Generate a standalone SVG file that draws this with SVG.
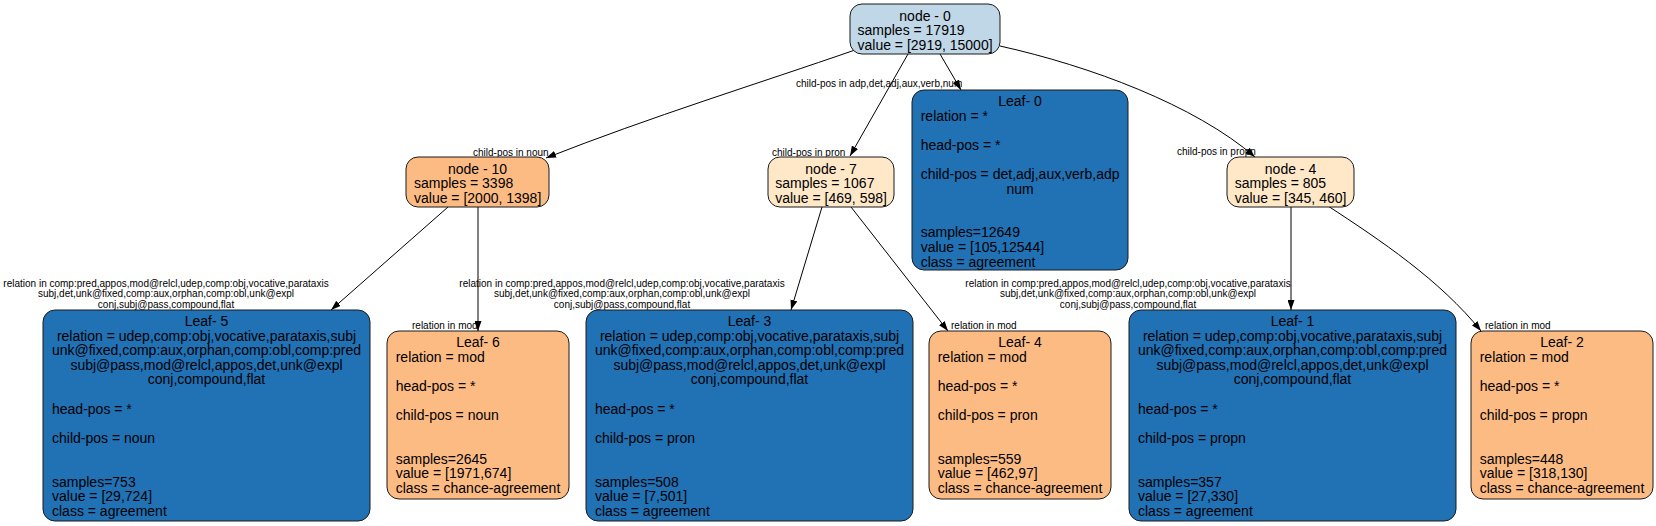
<svg xmlns="http://www.w3.org/2000/svg" width="1656" height="526" viewBox="0 0 1656 526">
<style>
.box{stroke:#1a1a1a;stroke-width:1}
.lb{fill:#bfd7e7}.db{fill:#2171b5}.or{fill:#fdbb84}.cr{fill:#fee8c8}
text{font-family:"Liberation Sans",Arial,Helvetica,sans-serif;fill:#000}
.t{font-size:14px}
.c{text-anchor:middle}
.el{font-size:10px}
.edge{fill:none;stroke:#000;stroke-width:1}
</style>
<defs>
<marker id="ah" viewBox="0 0 10 7" refX="10" refY="3.5" markerWidth="10" markerHeight="7" orient="auto" markerUnits="userSpaceOnUse">
<path d="M0,0 L10,3.5 L0,7 z" fill="#000"/>
</marker>
</defs>

<g id="connectors">
<path class="edge" marker-end="url(#ah)" d="M855,50 C760,83 650,117 546,158"/>
<path class="edge" marker-end="url(#ah)" d="M908,54 L850,156"/>
<path class="edge" marker-end="url(#ah)" d="M940,54 L961,90"/>
<path class="edge" marker-end="url(#ah)" d="M1000,46 C1090,66 1195,105 1255,157"/>
<path class="edge" marker-end="url(#ah)" d="M448,207 L331,310"/>
<path class="edge" marker-end="url(#ah)" d="M478,207 L478,331"/>
<path class="edge" marker-end="url(#ah)" d="M822,207 L791,310"/>
<path class="edge" marker-end="url(#ah)" d="M851,207 L948,331"/>
<path class="edge" marker-end="url(#ah)" d="M1291,206 L1291,310"/>
<path class="edge" marker-end="url(#ah)" d="M1328,206 C1380,240 1440,280 1481,331"/>
<text class="el" x="473" y="155.5">child-pos in noun</text>
<text class="el" x="796" y="87">child-pos in adp,det,adj,aux,verb,num</text>
<text class="el" x="772" y="155.5">child-pos in pron</text>
<text class="el" x="1177" y="155">child-pos in propn</text>
<text class="el c" x="166" y="286.5">relation in comp:pred,appos,mod@relcl,udep,comp:obj,vocative,parataxis</text>
<text class="el c" x="166" y="297.2">subj,det,unk@fixed,comp:aux,orphan,comp:obl,unk@expl</text>
<text class="el c" x="166" y="307.9">conj,subj@pass,compound,flat</text>
<text class="el c" x="622" y="286.5">relation in comp:pred,appos,mod@relcl,udep,comp:obj,vocative,parataxis</text>
<text class="el c" x="622" y="297.2">subj,det,unk@fixed,comp:aux,orphan,comp:obl,unk@expl</text>
<text class="el c" x="622" y="307.9">conj,subj@pass,compound,flat</text>
<text class="el c" x="1128" y="286.5">relation in comp:pred,appos,mod@relcl,udep,comp:obj,vocative,parataxis</text>
<text class="el c" x="1128" y="297.2">subj,det,unk@fixed,comp:aux,orphan,comp:obl,unk@expl</text>
<text class="el c" x="1128" y="307.9">conj,subj@pass,compound,flat</text>
<text class="el" x="412" y="328.5">relation in mod</text>
<text class="el" x="951" y="328.5">relation in mod</text>
<text class="el" x="1485" y="328.5">relation in mod</text>
</g>

<g id="node-0" transform="translate(850,4)">
<rect class="box lb" x="0" y="0" width="150" height="50" rx="12"/>
<text class="t c" x="75" y="16.8">node - 0</text>
<text class="t" x="7.5" y="31.4">samples = 17919</text>
<text class="t" x="7.5" y="46">value = [2919, 15000]</text>
</g>

<g id="node-10" transform="translate(406,157)">
<rect class="box or" x="0" y="0" width="143" height="50" rx="12"/>
<text class="t c" x="71.5" y="16.8">node - 10</text>
<text class="t" x="8" y="31.4">samples = 3398</text>
<text class="t" x="8" y="46">value = [2000, 1398]</text>
</g>

<g id="node-7" transform="translate(768,157)">
<rect class="box cr" x="0" y="0" width="126" height="50" rx="12"/>
<text class="t c" x="63" y="16.8">node - 7</text>
<text class="t" x="7.2" y="31.4">samples = 1067</text>
<text class="t" x="7.2" y="46">value = [469, 598]</text>
</g>

<g id="node-4" transform="translate(1227,157)">
<rect class="box cr" x="0" y="0" width="127" height="50" rx="12"/>
<text class="t c" x="63.5" y="16.8">node - 4</text>
<text class="t" x="7.7" y="31.4">samples = 805</text>
<text class="t" x="7.7" y="46">value = [345, 460]</text>
</g>

<g id="leaf-0" transform="translate(912,90)">
<rect class="box db" x="0" y="0" width="216" height="180" rx="12"/>
<text class="t c" x="108" y="16">Leaf- 0</text>
<text class="t" x="8.7" y="30.6">relation = *</text>
<text class="t" x="8.7" y="59.8">head-pos = *</text>
<text class="t" x="8.7" y="89">child-pos = det,adj,aux,verb,adp</text>
<text class="t c" x="108" y="103.6">num</text>
<text class="t" x="8.7" y="147.4">samples=12649</text>
<text class="t" x="8.7" y="162">value = [105,12544]</text>
<text class="t" x="8.7" y="176.6">class = agreement</text>
</g>

<g id="leaf-5" transform="translate(43,310)">
<rect class="box db" x="0" y="0" width="327" height="211" rx="12"/>
<text class="t c" x="163.5" y="16">Leaf- 5</text>
<text class="t c" x="163.5" y="30.6">relation = udep,comp:obj,vocative,parataxis,subj</text>
<text class="t c" x="163.5" y="45.2">unk@fixed,comp:aux,orphan,comp:obl,comp:pred</text>
<text class="t c" x="163.5" y="59.8">subj@pass,mod@relcl,appos,det,unk@expl</text>
<text class="t c" x="163.5" y="74.4">conj,compound,flat</text>
<text class="t" x="9" y="103.6">head-pos = *</text>
<text class="t" x="9" y="132.8">child-pos = noun</text>
<text class="t" x="9" y="176.6">samples=753</text>
<text class="t" x="9" y="191.2">value = [29,724]</text>
<text class="t" x="9" y="205.8">class = agreement</text>
</g>

<g id="leaf-6" transform="translate(387,331)">
<rect class="box or" x="0" y="0" width="182" height="168" rx="12"/>
<text class="t c" x="91" y="16">Leaf- 6</text>
<text class="t" x="8.7" y="30.6">relation = mod</text>
<text class="t" x="8.7" y="59.8">head-pos = *</text>
<text class="t" x="8.7" y="89">child-pos = noun</text>
<text class="t" x="8.7" y="132.8">samples=2645</text>
<text class="t" x="8.7" y="147.4">value = [1971,674]</text>
<text class="t" x="8.7" y="162">class = chance-agreement</text>
</g>

<g id="leaf-3" transform="translate(586,310)">
<rect class="box db" x="0" y="0" width="327" height="211" rx="12"/>
<text class="t c" x="163.5" y="16">Leaf- 3</text>
<text class="t c" x="163.5" y="30.6">relation = udep,comp:obj,vocative,parataxis,subj</text>
<text class="t c" x="163.5" y="45.2">unk@fixed,comp:aux,orphan,comp:obl,comp:pred</text>
<text class="t c" x="163.5" y="59.8">subj@pass,mod@relcl,appos,det,unk@expl</text>
<text class="t c" x="163.5" y="74.4">conj,compound,flat</text>
<text class="t" x="9" y="103.6">head-pos = *</text>
<text class="t" x="9" y="132.8">child-pos = pron</text>
<text class="t" x="9" y="176.6">samples=508</text>
<text class="t" x="9" y="191.2">value = [7,501]</text>
<text class="t" x="9" y="205.8">class = agreement</text>
</g>

<g id="leaf-4" transform="translate(929,331)">
<rect class="box or" x="0" y="0" width="182" height="168" rx="12"/>
<text class="t c" x="91" y="16">Leaf- 4</text>
<text class="t" x="8.7" y="30.6">relation = mod</text>
<text class="t" x="8.7" y="59.8">head-pos = *</text>
<text class="t" x="8.7" y="89">child-pos = pron</text>
<text class="t" x="8.7" y="132.8">samples=559</text>
<text class="t" x="8.7" y="147.4">value = [462,97]</text>
<text class="t" x="8.7" y="162">class = chance-agreement</text>
</g>

<g id="leaf-1" transform="translate(1129,310)">
<rect class="box db" x="0" y="0" width="327" height="211" rx="12"/>
<text class="t c" x="163.5" y="16">Leaf- 1</text>
<text class="t c" x="163.5" y="30.6">relation = udep,comp:obj,vocative,parataxis,subj</text>
<text class="t c" x="163.5" y="45.2">unk@fixed,comp:aux,orphan,comp:obl,comp:pred</text>
<text class="t c" x="163.5" y="59.8">subj@pass,mod@relcl,appos,det,unk@expl</text>
<text class="t c" x="163.5" y="74.4">conj,compound,flat</text>
<text class="t" x="9" y="103.6">head-pos = *</text>
<text class="t" x="9" y="132.8">child-pos = propn</text>
<text class="t" x="9" y="176.6">samples=357</text>
<text class="t" x="9" y="191.2">value = [27,330]</text>
<text class="t" x="9" y="205.8">class = agreement</text>
</g>

<g id="leaf-2" transform="translate(1471,331)">
<rect class="box or" x="0" y="0" width="182" height="168" rx="12"/>
<text class="t c" x="91" y="16">Leaf- 2</text>
<text class="t" x="8.7" y="30.6">relation = mod</text>
<text class="t" x="8.7" y="59.8">head-pos = *</text>
<text class="t" x="8.7" y="89">child-pos = propn</text>
<text class="t" x="8.7" y="132.8">samples=448</text>
<text class="t" x="8.7" y="147.4">value = [318,130]</text>
<text class="t" x="8.7" y="162">class = chance-agreement</text>
</g>
</svg>
